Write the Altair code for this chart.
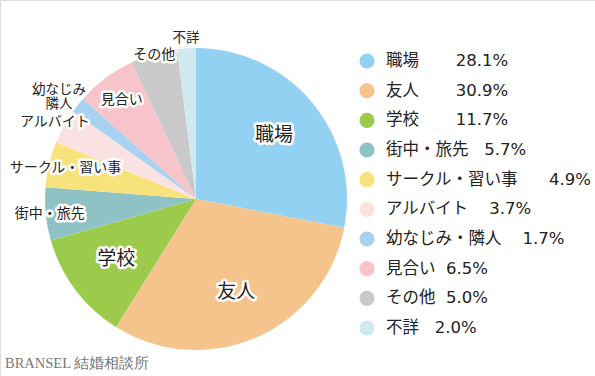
import altair as alt
import pandas as pd

categories = ["職場", "友人", "学校", "街中・旅先", "サークル・習い事", "アルバイト",
              "幼なじみ・隣人", "見合い", "その他", "不詳"]
values = [28.1, 30.9, 11.7, 5.7, 4.9, 3.7, 1.7, 6.5, 5.0, 2.0]
pie_labels = ["職場", "友人", "学校", "街中・旅先", "サークル・習い事", "アルバイト",
              "幼なじみ\n隣人", "見合い", "その他", "不詳"]
colors = ["#92d1f2", "#f5c48c", "#9ccb4c", "#8fc2c4", "#f8e27c", "#fbe2e2",
          "#a9d2f1", "#f6c4ca", "#c9c9c9", "#cfe9ee"]
legend_gap = [7, 7, 7, 3, 6, 4, 4, 2, 2, 3]
label_radius = [101, 101, 100, 147, 134, 161, 175, 124, 150, 161]
label_size = [19, 19, 19, 14, 14, 14, 13.5, 14, 14, 13.5]

df = pd.DataFrame({
    "idx": list(range(len(categories))),
    "cat": categories,
    "value": values,
    "plabel": pie_labels,
    "r": label_radius,
    "fs": label_size,
    "legend": [f"{c}{chr(160) * g}{v:.1f}%" for c, g, v in zip(categories, legend_gap, values)],
})

FONT = "Noto Sans CJK JP"
cx, cy = 196, 199
color = alt.Color("cat:N", scale=alt.Scale(domain=categories, range=colors), legend=None)

base = alt.Chart(df)

pie = base.mark_arc(outerRadius=151, stroke=None).encode(
    theta=alt.Theta("value:Q", stack=True),
    order=alt.Order("idx:Q"),
    color=color,
    x=alt.value(cx), y=alt.value(cy),
)

label_base = base.transform_window(
    cum="sum(value)", sort=[alt.SortField("idx")], frame=[None, 0]
).transform_calculate(mid="datum.cum - datum.value / 2")

def labels(halo):
    kw = dict(font=FONT, lineBreak="\n", align="center", baseline="middle", color="#222",
              lineHeight=14)
    if halo:
        kw.update(stroke="white", strokeWidth=5, strokeJoin="round", color="white")
    return label_base.mark_text(**kw).encode(
        theta=alt.Theta("mid:Q", stack=None),
        radius=alt.Radius("r:Q", scale=None),
        text="plabel:N",
        size=alt.Size("fs:Q", scale=None),
        x=alt.value(cx), y=alt.value(cy),
    )

yscale = alt.Scale(domain=[0, 9], range=[61, 328])
leg_dots = base.mark_circle(size=230, opacity=1).encode(
    x=alt.value(367),
    y=alt.Y("idx:Q", scale=yscale, axis=None),
    color=color,
)
leg_text = base.mark_text(font="DejaVu Sans, Noto Sans CJK JP", fontSize=16.5, align="left",
                          baseline="middle", color="#222").encode(
    x=alt.value(386),
    y=alt.Y("idx:Q", scale=yscale, axis=None),
    text="legend:N",
)

footer = alt.Chart(pd.DataFrame({"t": ["BRANSEL 結婚相談所"]})).mark_text(
    font="Liberation Serif", fontSize=14.5, align="left", baseline="middle", color="#777"
).encode(x=alt.value(5), y=alt.value(364), text="t:N")

chart = alt.layer(pie, labels(True), labels(False), leg_dots, leg_text, footer).properties(
    width=595, height=376, padding=0, autosize=alt.AutoSizeParams(type="none")
).configure_view(stroke=None).configure(background="white")

chart.save("out.html", embed_options={"renderer": "svg", "actions": False})
